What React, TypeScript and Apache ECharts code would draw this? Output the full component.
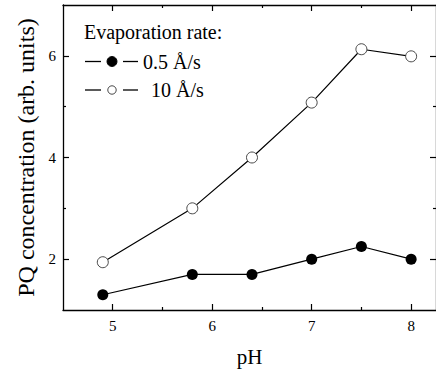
import React, { useEffect, useRef } from "react";
import * as echarts from "echarts";

const pH = [4.9, 5.8, 6.4, 7.0, 7.5, 8.0];
const slowRate = [1.3, 1.7, 1.7, 2.0, 2.25, 2.0];
const fastRate = [1.94, 3.0, 4.0, 5.08, 6.13, 5.99];
const seriesNames = ["0.5 Å/s", "10 Å/s"];
const xMajor = [5, 6, 7, 8];
const xMinor = [5.5, 6.5, 7.5];
const yMajor = [2, 4, 6];
const yMinor = [3, 5];
const legendTitle = "Evaporation rate:";
const xTitle = "pH";
const yTitle = "PQ concentration (arb. units)";

const FONT = "Liberation Serif";

export default function App() {
  const ref = useRef<HTMLDivElement>(null);
  useEffect(() => {
    if (!ref.current) return;
    const chart = echarts.init(ref.current, null, { renderer: "svg" });
    const line = { lineStyle: { color: "#000", width: 1.3 } };
    const xBase = (show: boolean, pos: "bottom" | "top", ticks: number[], len: number, labels: boolean, name?: string) => ({
      type: "value",
      position: pos,
      min: 4.5,
      max: 8.25,
      gridIndex: 0,
      axisLine: { show, onZero: false, ...line },
      axisTick: { show: true, inside: true, length: len, customValues: ticks, lineStyle: { color: "#000", width: 1.2 } },
      axisLabel: labels
        ? { show: true, customValues: ticks, color: "#000", fontSize: 15, fontFamily: FONT, margin: 8 }
        : { show: false },
      splitLine: { show: false },
      name: name,
      nameLocation: "middle",
      nameGap: 36,
      nameTextStyle: { color: "#000", fontSize: 21, fontFamily: FONT },
    });
    const yBase = (show: boolean, pos: "left" | "right", ticks: number[], len: number, labels: boolean, name?: string) => ({
      type: "value",
      position: pos,
      min: 1,
      max: 7,
      gridIndex: 0,
      axisLine: { show, onZero: false, ...line },
      axisTick: { show: true, inside: true, length: len, customValues: ticks, lineStyle: { color: "#000", width: 1.2 } },
      axisLabel: labels
        ? { show: true, customValues: ticks, color: "#000", fontSize: 15, fontFamily: FONT, margin: 7 }
        : { show: false },
      splitLine: { show: false },
      name: name,
      nameLocation: "middle",
      nameGap: 25,
      nameTextStyle: { color: "#000", fontSize: 24, fontFamily: FONT },
    });
    const legendRows = [
      { y: 61.5, fill: "#000", stroke: "#000", r: 5, tx: 143 },
      { y: 90, fill: "#fff", stroke: "#333", r: 4.2, tx: 151 },
    ];
    const graphic: any[] = [
      {
        type: "text",
        left: 84,
        top: 22,
        style: { text: legendTitle, fill: "#000", fontSize: 20, fontFamily: FONT },
      },
    ];
    legendRows.forEach((row, i) => {
      graphic.push(
        { type: "line", shape: { x1: 85, y1: row.y, x2: 101, y2: row.y }, style: { stroke: "#000", lineWidth: 1.3 } },
        { type: "line", shape: { x1: 123, y1: row.y, x2: 138, y2: row.y }, style: { stroke: "#000", lineWidth: 1.3 } },
        { type: "circle", shape: { cx: 112, cy: row.y, r: row.r }, style: { fill: row.fill, stroke: row.stroke, lineWidth: 0.9 } },
        {
          type: "text",
          x: row.tx,
          y: row.y,
          style: { text: seriesNames[i], fill: "#000", fontSize: 20, fontFamily: FONT, textVerticalAlign: "middle" },
        }
      );
    });
    chart.setOption({
      animation: false,
      backgroundColor: "#fff",
      textStyle: { fontFamily: FONT, color: "#000" },
      grid: { left: 63, top: 5, width: 377, height: 305 },
      graphic,
      xAxis: [
        xBase(true, "bottom", xMajor, 6, true, xTitle),
        xBase(false, "bottom", xMinor, 3, false),
        xBase(true, "top", xMajor, 6, false),
        xBase(false, "top", xMinor, 3, false),
      ],
      yAxis: [
        yBase(true, "left", yMajor, 6, true, yTitle),
        yBase(false, "left", yMinor, 3, false),
        yBase(true, "right", yMajor, 6, false),
        yBase(false, "right", yMinor, 3, false),
      ],
      series: [
        {
          name: seriesNames[0],
          type: "line",
          data: pH.map((x, i) => [x, slowRate[i]]),
          symbol: "circle",
          symbolSize: 11,
          itemStyle: { color: "#000", borderColor: "#000", borderWidth: 0 },
          lineStyle: { color: "#000", width: 1.2 },
        },
        {
          name: seriesNames[1],
          type: "line",
          data: pH.map((x, i) => [x, fastRate[i]]),
          symbol: "circle",
          symbolSize: 11,
          itemStyle: { color: "#fff", borderColor: "#333", borderWidth: 0.9 },
          lineStyle: { color: "#000", width: 1.2 },
        },
      ],
    });
    return () => chart.dispose();
  }, []);
  return (
    <div
      ref={ref}
      style={{ position: "absolute", left: 0, top: 0, width: 436, height: 372 }}
    />
  );
}
